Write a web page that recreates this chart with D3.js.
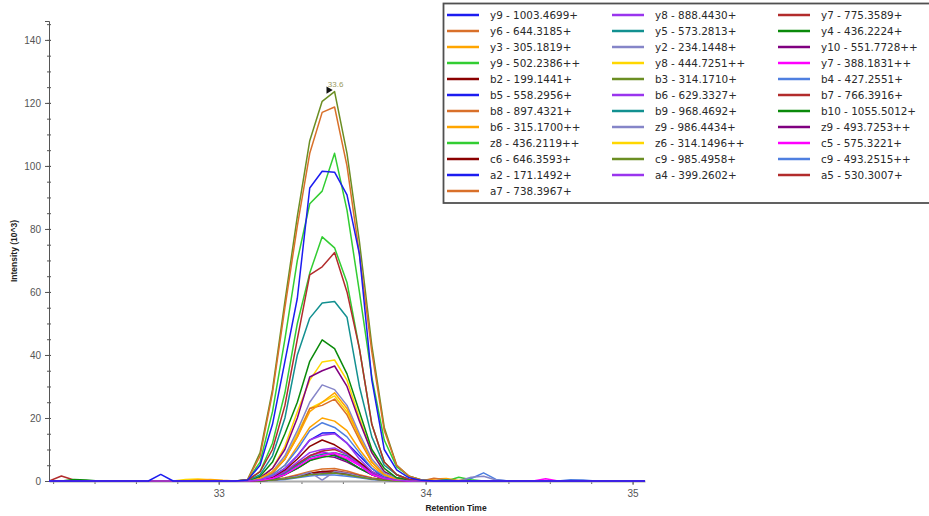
<!DOCTYPE html>
<html>
<head>
<meta charset="utf-8">
<script src="https://cdn.jsdelivr.net/npm/d3@7"></script>
<style>
  html, body { margin: 0; padding: 0; background: #fff; }
  svg { display: block; font-family: "Liberation Sans", Arial, sans-serif; }
</style>
</head>
<body>
<svg id="chart" width="929" height="516"></svg>
<script>
// scan times (min) shared by every trace
const retentionTimes = [
  32.18, 32.24, 32.30, 32.36, 32.42, 32.48, 32.54, 32.60, 32.66, 32.72, 32.78, 32.84, 32.90, 32.96, 33.02, 33.08,
  33.14, 33.20, 33.26, 33.32, 33.38, 33.44, 33.50, 33.56, 33.62, 33.68, 33.74, 33.80, 33.86, 33.92, 33.98,
  34.04, 34.10, 34.16, 34.22, 34.28, 34.34, 34.40, 34.46, 34.52, 34.58, 34.64, 34.70, 34.76, 34.82, 34.88, 34.94, 35.00, 35.06
];

// legend order (row by row, 3 columns)
const ionLabels = [
  "y9 - 1003.4699+", "y8 - 888.4430+", "y7 - 775.3589+",
  "y6 - 644.3185+", "y5 - 573.2813+", "y4 - 436.2224+",
  "y3 - 305.1819+", "y2 - 234.1448+", "y10 - 551.7728++",
  "y9 - 502.2386++", "y8 - 444.7251++", "y7 - 388.1831++",
  "b2 - 199.1441+", "b3 - 314.1710+", "b4 - 427.2551+",
  "b5 - 558.2956+", "b6 - 629.3327+", "b7 - 766.3916+",
  "b8 - 897.4321+", "b9 - 968.4692+", "b10 - 1055.5012+",
  "b6 - 315.1700++", "z9 - 986.4434+", "z9 - 493.7253++",
  "z8 - 436.2119++", "z6 - 314.1496++", "c5 - 575.3221+",
  "c6 - 646.3593+", "c9 - 985.4958+", "c9 - 493.2515++",
  "a2 - 171.1492+", "a4 - 399.2602+", "a5 - 530.3007+",
  "a7 - 738.3967+"
];

const ionColors = [
  "#1c1cf0", "#9a35ee", "#b22c2c", "#d9702a", "#129090",
  "#0a8a0a", "#ffa500", "#8585c8", "#800080", "#32cd32",
  "#ffd700", "#ff00ff", "#8b0000", "#6b8e23", "#4f7fe0"
];

// intensities (10^3), one row per trace, same order as ionLabels
const yIonTraces = [
  [0,0,0,0,0,0,0,0,0,2.1,0,0,0,0,0,0, 0.3,5,18,38,58,93,98.3,98,90.8,72,32,10,3.5,1,0.2, 0,0,0,0,0,0,0,0,0,0,0,0,0,0,0,0,0,0],
  [0,0,0,0,0,0,0,0,0,0,0,0,0,0,0,0, 0,0.4,1.5,4,8,13,14.5,15,12,7,3,1,0.3,0,0, 0,0,0,0,0,0,0,0,0,0,0,0,0,0,0,0,0,0],
  [0,0,0,0,0,0,0,0,0,0,0,0,0,0,0,0, 0.2,3,10,24,45,65.4,68,72.5,60,42,18,6,2,0.5,0, 0,0,0,0,0,0,0,0,0,0,0,0,0,0,0,0,0,0],
  [0,0,0,0,0,0,0,0,0,0,0,0,0,0,0,0, 0.4,8,28,55,81,104,117,118.7,100,72,41,16,5,1.5,0.3, 0,0,0,0,0,0,0,0,0,0,0,0,0,0,0,0,0,0],
  [0,0,0,0,0,0,0,0,0,0,0,0,0,0,0,0, 0.2,2,8,20,40,51.7,56.5,57,52,30,14,5,2,0.5,0, 0,0.4,0,0,0,0,0,0,0,0,0,0,0,0,0,0,0,0],
  [0,0,0,0,0,0,0,0,0,0,0,0,0,0,0,0, 0.1,1.5,6,15,25,38,44.8,42,34,22,10,4,1,0.3,0, 0,0,0,0,0,0,0,0,0,0,0,0,0,0,0,0,0,0],
  [0,0,0,0,0,0,0,0,0,0,0,0,0.4,0.5,0.2,0, 0.1,0.8,3,7,14,22,25,28,23,14,6,2,0.5,0.2,0, 0,0,0,0,0,0,0,0,0,0,0,0,0,0,0,0,0,0],
  [0,0,0,0,0,0,0,0,0,0,0,0,0,0,0,0, 0.1,0.8,3,8,16,25,30.5,29,24,15,7,2.5,1,0.2,0, 0,0,0,0,0,0,0,0,0,0,0,0,0,0,0,0,0,0],
  [0,0,0,0,0,0,0,0,0,0,0,0,0,0,0,0, 0.1,1,4,10,20,33,35,36.5,30,19,9,3,1,0.3,0, 0,0,0,0,0,0,0,0,0,0,0,0,0,0,0,0,0,0],
  [0,0,0,0,0,0,0,0,0,0,0,0,0,0,0,0, 0.3,6,22,45,70,88,92,104,86,60,33,13,4.5,1.5,0.3, 0,0,0,0,0,0,0,0,0,0,0,0,0,0,0,0,0,0],
  [0,0,0,0,0,0,0,0,0,0,0,0,0,0,0,0, 0.1,1,4,11,22,32,37.8,38.4,32,20,9,3,1,0.3,0, 0,0,0,0,0,0,0,0,0,0,0,0,0,0,0,0,0,0],
  [0,0,0,0,0,0,0,0,0,0,0,0,0,0,0,0, 0,0.2,0.8,2,4.5,7,8,9,7.5,5,2,0.8,0.2,0,0, 0,0,0,0,0,0,0,0,0,0.7,0,0,0,0,0,0,0,0]
];

const bIonTraces = [
  [0,0,0,0,0,0,0,0,0,0,0,0,0,0,0,0, 0,0.3,1.2,3.5,7,11,13,11.5,9,6,3,1,0.3,0,0, 0,0,0,0,0,0,0,0,0,0,0,0,0,0,0,0,0,0],
  [0,0,0,0,0,0,0,0,0,0,0,0,0,0,0,0, 0,0.1,0.3,0.7,1.2,2,2.3,2.5,2,1.3,0.6,0.2,0,0,0, 0,0,0,0,0,0,0,0,0,0,0,0,0,0,0,0,0,0],
  [0,0,0,0,0,0,0,0,0,0,0,0,0,0,0,0, 0,0.5,2,5,10,16,18.5,17,14,9,4,1.5,0.5,0,0, 0,0,0,0,0,0,0,0,0,0,0,0.4,0.3,0,0,0,0,0],
  [0,0,0,0,0,0,0,0,0,0,0,0,0,0,0,0, 0,0.4,1.5,4,8,13,15.2,15.3,12,8,4,1,0.3,0,0, 0,0,0,0,0,0,0,0,0,0,0,0,0,0,0,0,0,0],
  [0,0,0,0,0,0,0,0,0,0,0,0,0,0,0,0, 0,0.3,1,3,6,9,10,10.5,8.5,5.5,2.5,1,0.3,0,0, 0,0,0,0,0,0,0,0,0,0,0,0,0,0,0,0,0,0],
  [0,0,0,0,0,0,0,0,0,0,0,0,0,0,0,0, 0,0.2,1,3,5.5,8,9.5,10,8.5,5.5,2.5,1,0.3,0,0, 0,0,0,0,0,0,0,0,0,0,0,0,0,0,0,0,0,0],
  [0,0,0,0,0,0,0,0,0,0,0,0,0,0,0,0, 0.1,0.7,2.5,7,14,23,24,26,21,13,6,2,0.5,0.2,0, 0.9,0.4,0,0,0,0,0,0,0,0,0,0,0,0,0,0,0,0],
  [0,0,0,0,0,0,0,0,0,0,0,0,0,0,0,0, 0,0.2,1,2.5,5,7.5,8.5,9,8,5,2.5,1,0.3,0,0, 0,0,0,0,0,0,0,0,0,0,0,0,0,0,0,0,0,0],
  [0,0,0.5,0.3,0,0,0,0,0,0,0,0,0,0,0,0, 0,0.1,0.5,2,4,6.5,7.5,8.2,6.5,4,2,0.7,0.2,0,0, 0,0,0,0,0,0,0,0,0,0,0,0,0,0,0,0,0,0],
  [0,0,0,0,0,0,0,0,0,0,0,0,0,0,0,0, 0,0.5,2,5,11,17,20,19,16,10,5,1.5,0.5,0,0, 0.6,0.8,0.2,0,0,0,0,0,0,0,0,0,0,0,0,0,0,0]
];

const zIonTraces = [
  [0,0,0,0,0,0,0,0,0,0,0,0,0,0,0,0, 0,0.1,0.3,0.8,1.5,2.8,0.3,3,2.5,1.5,0.7,0.2,0,0,0, 0,0,0,1.2,1.5,0.3,0,0,0,0,0,0,0,0,0,0,0,0],
  [0,0,0,0,0,0,0,0,0,0,0,0,0,0,0,0, 0,0.2,0.8,2,4,6.5,8,7.5,6,4,2,0.8,0.2,0,0, 0,0,0,0,0,0,0,0,0,0,0,0,0,0,0,0,0,0],
  [0,0,0,0,0,0,0,0,0,0,0,0,0,0,0,0, 0.2,3,12,28,50,66,77.5,74,63,42,18,6,2,0.5,0, 0,0,1.2,0.4,0,0,0,0,0,0,0,0,0,0,0,0,0,0],
  [0,0,0,0,0,0,0,0,0,0,0,0.5,0.6,0.3,0,0, 0.1,0.7,2.5,7,15,23,25,27,22,14,6,2,0.5,0.2,0, 0,0,0,0,0,0,0,0,0,0,0,0,0,0,0,0,0,0]
];

const cIonTraces = [
  [0,0,0,0,0,0,0,0,0,0,0,0,0,0,0,0, 0,0.2,1,2.5,5,8,9,8.5,7,5,2.5,1,0.3,0,0, 0,0,0,0,0,0,0,0,0,0,0,0,0,0,0,0,0,0],
  [0,0,0,0,0,0,0,0,0,0,0,0,0,0,0,0, 0,0.1,0.3,0.8,1.5,2.4,3,2.8,2.2,1.5,0.7,0.3,0.1,0,0, 0,0,0,0,0,0,0,0,0,0,0,0,0,0,0,0,0,0],
  [0,0,0,0,0,0,0,0,0,0,0,0,0,0,0,0, 0.5,9,29,57,84,108,120.5,123.6,104,76,43,17,5,1.5,0.3, 0,0,0,0,0,0,0,0,0,0,0,0,0,0,0,0,0,0],
  [0,0,0,0,0,0,0,0,0,0,0,0,0,0,0,0, 0,0.1,0.2,0.5,1,1.6,2,1.9,1.5,1,0.5,0.2,0,0,0, 0,0,0,0.8,2.6,0.5,0,0,0,0,0,0,0,0,0,0,0,0]
];

const aIonTraces = [
  [0,0,0,0,0,0,0,0,0,0,0,0,0,0,0,0, 0,0.2,1,2.5,5,8,9.3,8,6.5,4,2,0.8,0.2,0,0, 0,0,0,0,0,0,0,0,0,0,0,0,0,0,0,0,0,0],
  [0,0,0,0,0,0,0,0,0,0,0,0,0,0,0,0, 0,0.1,0.3,0.7,1.4,2.2,2.6,2.5,2,1.3,0.6,0.2,0,0,0, 0,0,0,0,0,0,0,0,0,0,0,0,0,0,0,0,0,0],
  [0,1.6,0.3,0,0,0,0,0,0,0,0,0,0,0,0,0, 0,0.1,0.3,0.8,1.6,2.5,3,3.3,2.6,1.7,0.8,0.3,0.1,0,0, 0,0,0,0,0,0,0,0,0,0,0,0,0,0,0,0,0,0],
  [0,0,0,0,0,0,0,0,0,0,0,0,0,0,0,0, 0,0.1,0.4,1,2,3,3.8,4,3.2,2,1,0.4,0.1,0,0, 0,0,0,0,0,0,0,0,0,0,0,0,0,0,0,0,0,0]
];

// apex annotation
const apexTime = 33.56;
const apexIntensity = 123.6;
const apexLabel = "33.6";

const yMajorTicks = [0, 20, 40, 60, 80, 100, 120, 140];
const xMajorTicks = [33, 34, 35];

const traces = [...yIonTraces, ...bIonTraces, ...zIonTraces, ...cIonTraces, ...aIonTraces]
  .map((values, i) => ({
    label: ionLabels[i],
    color: ionColors[i % ionColors.length],
    points: values.map((v, j) => ({ t: retentionTimes[j], v }))
  }));

const svg = d3.select("#chart");

const x = d3.scaleLinear().domain([32.18, 35.06]).range([49, 645]);
const y = d3.scaleLinear().domain([0, 146]).range([481, 21]);

svg.append("defs").append("clipPath").attr("id", "plot-clip")
  .append("rect").attr("x", 49).attr("y", 0).attr("width", 596).attr("height", 482);

// y axis: minor ticks every 5, labels every 20
const yMinor = svg.append("g").attr("transform", "translate(49,0)")
  .call(d3.axisLeft(y).tickValues(d3.range(0, 146, 5)).tickFormat("").tickSizeOuter(0));
yMinor.select(".domain").remove();
yMinor.selectAll(".tick line").attr("x1", 2).attr("x2", -2).attr("stroke", "#555");

const yAxis = svg.append("g").attr("transform", "translate(49,0)")
  .call(d3.axisLeft(y).tickValues(yMajorTicks).tickSizeOuter(0).tickSize(4).tickPadding(4));
yAxis.select(".domain").attr("stroke", "#555");
yAxis.selectAll(".tick line").attr("x1", 2).attr("stroke", "#555");
yAxis.selectAll(".tick text").attr("fill", "#555").style("font-size", "10px")
  .style("font-family", "'Liberation Sans', Arial, sans-serif");

// x axis
const xMinor = svg.append("g").attr("transform", "translate(0,481)")
  .call(d3.axisBottom(x).tickValues(d3.range(32.2, 35.05, 0.2)).tickFormat("").tickSize(3).tickSizeOuter(0));
xMinor.select(".domain").remove();
xMinor.selectAll(".tick line").attr("stroke", "#666");

const xAxis = svg.append("g").attr("transform", "translate(0,481)")
  .call(d3.axisBottom(x).tickValues(xMajorTicks).tickFormat(d3.format("d")).tickSize(4).tickSizeOuter(0).tickPadding(5));
xAxis.select(".domain").attr("stroke", "#aaa").attr("stroke-width", 2);
xAxis.selectAll(".tick line").attr("stroke", "#666");
xAxis.selectAll(".tick text").attr("fill", "#555").style("font-size", "10px")
  .style("font-family", "'Liberation Sans', Arial, sans-serif");

// traces (first legend entry drawn last, so it sits on top)
const line = d3.line().x(d => x(d.t)).y(d => y(d.v));

svg.append("g").attr("clip-path", "url(#plot-clip)")
  .selectAll("path")
  .data(traces.slice().reverse())
  .join("path")
  .attr("d", d => line(d.points))
  .attr("fill", "none")
  .attr("stroke", d => d.color)
  .attr("stroke-width", 1.5)
  .attr("stroke-linejoin", "round");

// apex marker
svg.append("path")
  .attr("d", d3.symbol(d3.symbolTriangle, 22)())
  .attr("transform", `translate(${x(apexTime) - 6},${y(apexIntensity) - 1.5}) rotate(90)`)
  .attr("fill", "#111");
svg.append("text")
  .attr("x", x(apexTime) + 1).attr("y", y(apexIntensity) - 5)
  .attr("text-anchor", "middle")
  .attr("fill", "#9a9a60")
  .style("font-size", "8px")
  .text(apexLabel);

// axis titles
svg.append("text")
  .attr("transform", "translate(17,251) rotate(-90)")
  .attr("text-anchor", "middle")
  .style("font-size", "8.5px").style("font-weight", "bold").attr("fill", "#222")
  .text("Intensity (10^3)");
svg.append("text")
  .attr("x", 456).attr("y", 511)
  .attr("text-anchor", "middle")
  .style("font-size", "8.5px").style("font-weight", "bold").attr("fill", "#222")
  .text("Retention Time");

// legend
const legend = svg.append("g");
legend.append("rect")
  .attr("x", 443.5).attr("y", 3.5).attr("width", 500).attr("height", 199.5)
  .attr("fill", "#fff").attr("stroke", "#505050").attr("stroke-width", 1.8);

const colX = [447, 612, 778];
const items = legend.selectAll("g.item")
  .data(traces)
  .join("g")
  .attr("class", "item")
  .attr("transform", (d, i) => `translate(${colX[i % 3]},${15 + 16 * Math.floor(i / 3)})`);

items.append("line")
  .attr("x1", 0).attr("x2", 32)
  .attr("stroke", d => d.color).attr("stroke-width", 2.5);
items.append("text")
  .attr("x", 43).attr("dy", "0.36em")
  .attr("fill", "#2a2a2a")
  .style("font-size", "10.4px")
  .style("font-family", "'DejaVu Sans', Verdana, sans-serif")
  .text(d => d.label);
</script>
</body>
</html>
